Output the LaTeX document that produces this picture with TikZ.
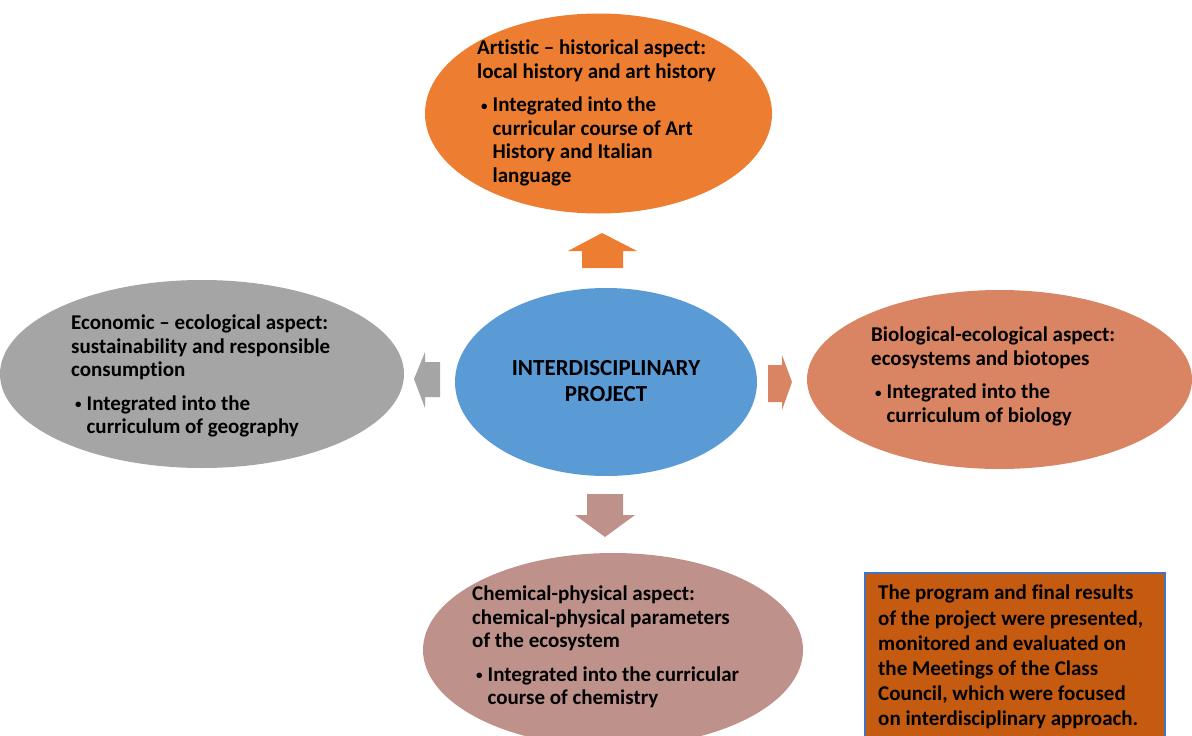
\documentclass[tikz,border=0pt]{standalone}
\usepackage{fontspec}
\setmainfont{Carlito}[Ligatures=NoCommon]
\usetikzlibrary{shapes.geometric}

\definecolor{cOrange}{HTML}{ED7D31}
\definecolor{cBlue}{HTML}{5B9BD5}
\definecolor{cGray}{HTML}{A5A5A5}
\definecolor{cSalmon}{HTML}{D98462}
\definecolor{cRose}{HTML}{BF918B}
\definecolor{cBox}{HTML}{C55A11}
\definecolor{cBoxLine}{HTML}{4472C4}

% small bullet and hanging indent for the list items
\newcommand{\bul}{\makebox[15.5pt][l]{\hspace*{4pt}\raisebox{1.6pt}{\fontsize{13}{13}\selectfont •}}}
\newcommand{\ind}{\hspace*{15.5pt}}

\tikzset{
  bubble/.style={ellipse, inner sep=0pt, draw=none},
  body/.style={inner sep=0pt, align=left, anchor=north west, text=black,
               font=\fontsize{21}{23.5}\selectfont\bfseries},
  boxtext/.style={body, font=\fontsize{21}{25.2}\selectfont\bfseries},
}

\begin{document}
\begin{tikzpicture}[x=1pt,y=-1pt]
\useasboundingbox (0,0) rectangle (1192,736);
\clip (0,0) rectangle (1192,736);

% ellipses
\node[bubble, fill=cOrange, minimum width=347pt, minimum height=200pt] (art) at (598.5,113.5) {};
\node[bubble, fill=cGray,   minimum width=404pt, minimum height=188pt] (eco) at (202,374) {};
\node[bubble, fill=cBlue,   minimum width=302pt, minimum height=188pt] (proj) at (606,382) {};
\node[bubble, fill=cSalmon, minimum width=385pt, minimum height=179pt] (bio) at (999.5,379.5) {};
\node[bubble, fill=cRose,   minimum width=380pt, minimum height=194pt] (chem) at (613,650) {};

% block arrows around the centre
\fill[cOrange] (568,251) -- (602,233) -- (637,251) -- (623,251) -- (623,268) -- (582,268) -- (582,251) -- cycle;
\fill[cGray]   (425,352) -- (414,379) -- (425,408) -- (425,397) -- (440,397) -- (440,362) -- (425,362) -- cycle;
\fill[cSalmon] (782,355) -- (792,382) -- (782,410) -- (782,402) -- (768,402) -- (768,365) -- (782,365) -- cycle;
\fill[cRose]   (575,515) -- (605,537) -- (635,515) -- (623,515) -- (623,494) -- (587,494) -- (587,515) -- cycle;

% note box
\node[draw=cBoxLine, line width=2.5pt, fill=cBox, minimum width=300pt, minimum height=190pt, inner sep=0pt] (note) at (1015,668) {};

% texts
\node[inner sep=0pt, align=center, font=\fontsize{23}{26}\selectfont\bfseries] (projT) at (606,381) {INTERDISCIPLINARY\\PROJECT};

\node[body] (artT) at (477,40) {Artistic – historical aspect:\\
local history and art history\\[10pt]
\bul Integrated into the\\
\ind curricular course of Art\\
\ind History and Italian\\
\ind language};

\node[body] (ecoT) at (71,315) {Economic – ecological aspect:\\
sustainability and responsible\\
consumption\\[10pt]
\bul Integrated into the\\
\ind curriculum of geography};

\node[body] (bioT) at (871,327) {Biological-ecological aspect:\\
ecosystems and biotopes\\[10pt]
\bul Integrated into the\\
\ind curriculum of biology};

\node[body] (chemT) at (472,586) {Chemical-physical aspect:\\
chemical-physical parameters\\
of the ecosystem\\[10pt]
\bul Integrated into the curricular\\
\ind course of chemistry};

\node[boxtext] (noteT) at (878,585) {The program and final results\\
of the project were presented,\\
monitored and evaluated on\\
the Meetings of the Class\\
Council, which were focused\\
on interdisciplinary approach.};
\end{tikzpicture}
\end{document}
